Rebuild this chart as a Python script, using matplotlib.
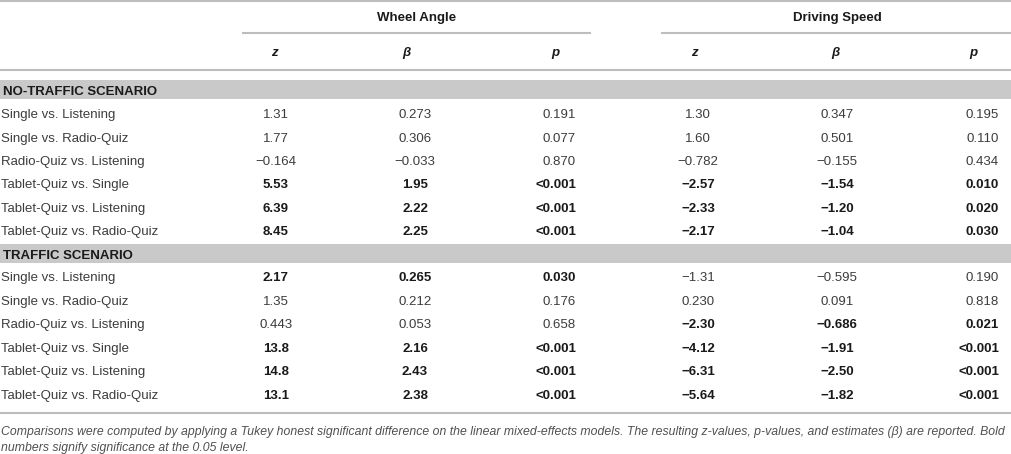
import matplotlib
matplotlib.use("Agg")
import matplotlib.pyplot as plt

plt.rcParams['font.family'] = ['Liberation Sans', 'DejaVu Sans']

groups = ["Wheel Angle", "Driving Speed"]
stats = ["z", "β", "p"]
sections = ["NO-TRAFFIC SCENARIO", "TRAFFIC SCENARIO"]
comparisons = ["Single vs. Listening", "Single vs. Radio-Quiz", "Radio-Quiz vs. Listening",
               "Tablet-Quiz vs. Single", "Tablet-Quiz vs. Listening", "Tablet-Quiz vs. Radio-Quiz"]

# no-traffic scenario
nt_wheel_z = ["1.31", "1.77", "−0.164", "5.53", "6.39", "8.45"]
nt_wheel_b = ["0.273", "0.306", "−0.033", "1.95", "2.22", "2.25"]
nt_wheel_p = ["0.191", "0.077", "0.870", "<0.001", "<0.001", "<0.001"]
nt_speed_z = ["1.30", "1.60", "−0.782", "−2.57", "−2.33", "−2.17"]
nt_speed_b = ["0.347", "0.501", "−0.155", "−1.54", "−1.20", "−1.04"]
nt_speed_p = ["0.195", "0.110", "0.434", "0.010", "0.020", "0.030"]

# traffic scenario
tr_wheel_z = ["2.17", "1.35", "0.443", "13.8", "14.8", "13.1"]
tr_wheel_b = ["0.265", "0.212", "0.053", "2.16", "2.43", "2.38"]
tr_wheel_p = ["0.030", "0.176", "0.658", "<0.001", "<0.001", "<0.001"]
tr_speed_z = ["−1.31", "0.230", "−2.30", "−4.12", "−6.31", "−5.64"]
tr_speed_b = ["−0.595", "0.091", "−0.686", "−1.91", "−2.50", "−1.82"]
tr_speed_p = ["0.190", "0.818", "0.021", "<0.001", "<0.001", "<0.001"]

footnote = ["Comparisons were computed by applying a Tukey honest significant difference on the linear "
            "mixed-effects models. The resulting z-values, p-values, and estimates (β) are reported. Bold",
            "numbers signify significance at the 0.05 level."]

W, H = 1012, 454
fig = plt.figure(figsize=(W / 100, H / 100), dpi=100)
ax = fig.add_axes([0, 0, 1, 1])
ax.set_xlim(0, W)
ax.set_ylim(H, 0)
ax.axis('off')

txt = '#3c3c3c'
dark = '#1a1a1a'
line_c = '#bdbdbd'
band_c = '#c9c9c9'
fs = 9.5
off = 4.3  # baseline offset from row centre

def is_sig(p):
    return p.startswith('<') or float(p) < 0.05

# rules
ax.plot([0, W], [1, 1], color=line_c, lw=1.5)
ax.plot([243, 590], [33, 33], color=line_c, lw=1.5)
ax.plot([662, W], [33, 33], color=line_c, lw=1.5)
ax.plot([0, W], [70, 70], color=line_c, lw=1.5)
ax.plot([0, W], [413, 413], color=line_c, lw=1.5)

# group headers
for g, cx in zip(groups, [417, 837]):
    ax.text(cx, 17 + off, g, ha='center', va='baseline', fontsize=fs, fontweight='bold', color=dark)
for i, cx in enumerate([274, 406, 555, 694, 835, 973]):
    ax.text(cx, 52 + off, stats[i % 3], ha='center', va='baseline', fontsize=fs,
            fontweight='bold', fontstyle='italic', color=dark)

col_x = [276, 415, 576, 698, 837, 999]
col_ha = ['center', 'center', 'right', 'center', 'center', 'right']

blocks = [
    (sections[0], 89.5, [114, 137.5, 161, 184, 207.5, 230.5],
     [nt_wheel_z, nt_wheel_b, nt_wheel_p, nt_speed_z, nt_speed_b, nt_speed_p]),
    (sections[1], 253.5, [277, 300.5, 324, 347.5, 371, 394.5],
     [tr_wheel_z, tr_wheel_b, tr_wheel_p, tr_speed_z, tr_speed_b, tr_speed_p]),
]

for title, by, rows_y, cols in blocks:
    ax.add_patch(plt.Rectangle((0, by - 9.5), W, 19, color=band_c, lw=0))
    ax.text(3, by + 1 + off, title, ha='left', va='baseline', fontsize=fs, fontweight='bold', color=dark)
    for r, y in enumerate(rows_y):
        ax.text(1, y + off, comparisons[r], ha='left', va='baseline', fontsize=fs, color=txt)
        for c in range(6):
            p_col = cols[2] if c < 3 else cols[5]
            bold = is_sig(p_col[r])
            ax.text(col_x[c], y + off, cols[c][r], ha=col_ha[c], va='baseline', fontsize=fs,
                    fontweight='bold' if bold else 'normal', color=dark if bold else txt)

for i, line in enumerate(footnote):
    ax.text(1, 435 + 16 * i, line, ha='left', va='baseline', fontsize=8.8,
            fontstyle='italic', color='#505050')

fig.savefig('out.png', dpi=100)
